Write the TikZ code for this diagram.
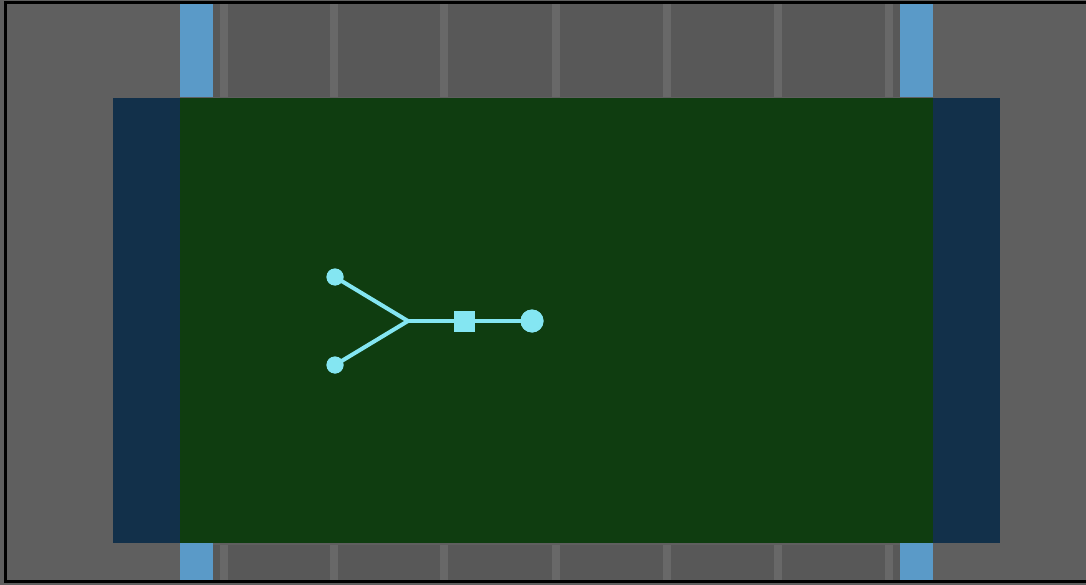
\documentclass[tikz,border=0pt]{standalone}
\definecolor{bggray}{HTML}{5F5F5F}
\definecolor{cellgray}{HTML}{585858}
\definecolor{sepgray}{HTML}{686868}
\definecolor{fieldgreen}{HTML}{0F3D10}
\definecolor{sideblue}{HTML}{12304A}
\definecolor{stripblue}{HTML}{5A9AC8}
\definecolor{cyanish}{HTML}{84E6F2}
\tikzset{
  sep/.style={fill=sepgray},
  blobnode/.style={circle, fill=cyanish, inner sep=0pt, minimum size=#1},
  boxnode/.style={rectangle, fill=cyanish, inner sep=0pt, minimum size=21pt},
  link/.style={draw=cyanish, line width=4pt},
}
\begin{document}
\begin{tikzpicture}[x=1pt,y=-1pt]
\useasboundingbox (0,0) rectangle (1086,585);
\begin{scope}
\clip (0,0) rectangle (1086,585);
\fill[bggray] (0,0) rectangle (1086,585);
% top and bottom strips
\fill[cellgray] (213,4) rectangle (900,97);
\fill[cellgray] (213,545) rectangle (900,581);
\foreach \x in {224,334,444,556,667,778,889}{
  \fill[sep] (\x-4,4) rectangle (\x+4,97);
  \fill[sep] (\x-4,545) rectangle (\x+4,581);
}
\fill[stripblue] (180,4) rectangle (213,97);
\fill[stripblue] (900,4) rectangle (933,97);
\fill[stripblue] (180,543) rectangle (213,581);
\fill[stripblue] (900,543) rectangle (933,581);
% field
\fill[sideblue] (113,98) rectangle (180,543);
\fill[sideblue] (933,98) rectangle (1000,543);
\fill[fieldgreen] (180,98) rectangle (933,543);
% frame
\draw[black, line width=3pt] (1100,2.5) -- (5.5,2.5) -- (5.5,581.5) -- (1100,581.5);
\end{scope}
% graph
\node[blobnode=17pt] (ta) at (335,277) {};
\node[blobnode=17pt] (tb) at (335,365) {};
\coordinate (j) at (408,321);
\node[boxnode] (sq) at (464,321) {};
\node[blobnode=23pt] (rc) at (532,321) {};
\draw[link] (ta.center) -- (j) -- (tb.center);
\draw[link] (j) -- (sq.center) -- (rc.center);
\node[boxnode] at (464,321) {};
\node[blobnode=17pt] at (335,277) {};
\node[blobnode=17pt] at (335,365) {};
\node[blobnode=23pt] at (532,321) {};
\end{tikzpicture}
\end{document}
